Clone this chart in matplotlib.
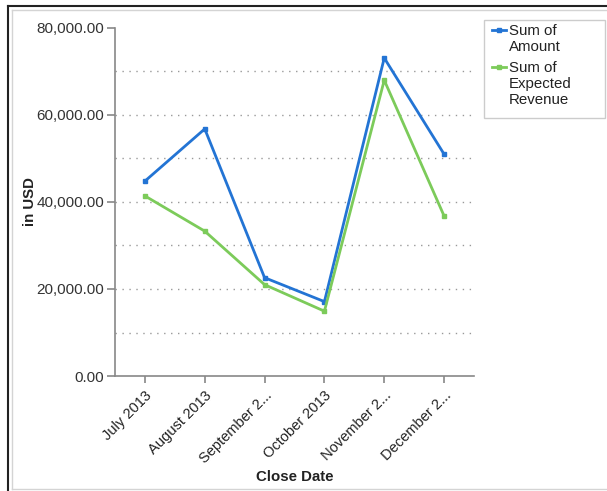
import matplotlib
matplotlib.use("Agg")
import matplotlib.pyplot as plt
from matplotlib.patches import Rectangle
from matplotlib.lines import Line2D
from matplotlib.ticker import MultipleLocator, FuncFormatter

plt.rcParams['font.family'] = ['Liberation Sans', 'DejaVu Sans']

months = ["July 2013", "August 2013", "September 2...", "October 2013",
          "November 2...", "December 2..."]
amount = [44800, 56800, 22600, 17100, 73100, 51000]
expected_revenue = [41400, 33300, 21000, 14900, 68000, 36800]
series_labels = ["Sum of\nAmount", "Sum of\nExpected\nRevenue"]

blue = "#2374d4"
green = "#7ccb5a"

W, H = 607, 491
fig = plt.figure(figsize=(W / 100, H / 100), dpi=100)


def fx(px):
    return px / W


def fy(py):
    return 1 - py / H


def fig_line(x0, y0, x1, y1, color, lw):
    fig.add_artist(Line2D([fx(x0), fx(x1)], [fy(y0), fy(y1)], transform=fig.transFigure,
                          color=color, lw=lw))


# panel frame
fig_line(8, 6, W, 6, "#222222", 1.5)
fig_line(8, 6, 8, H, "#222222", 1.5)
fig_line(12, 10, W, 10, "#d4d4d4", 1.0)
fig_line(12, 10, 12, 489, "#d4d4d4", 1.0)
fig_line(12, 489, W, 489, "#d4d4d4", 1.0)

ax_l, ax_r, ax_t, ax_b = 115, 474, 28, 376
ax = fig.add_axes([fx(ax_l), fy(ax_b), (ax_r - ax_l) / W, (ax_b - ax_t) / H])

x = list(range(len(months)))
colors = [blue, green]
for vals, c in zip([amount, expected_revenue], colors):
    ax.plot(x, vals, color=c, lw=2, marker="s", ms=2.5, zorder=3)

ax.set_xlim(-0.5, len(months) - 0.5)
ax.set_ylim(0, 80000)

ax.yaxis.set_major_locator(MultipleLocator(20000))
ax.yaxis.set_major_formatter(FuncFormatter(lambda v, p: f"{v:,.2f}"))
for yv in range(10000, 80000, 10000):
    ax.axhline(yv, color="#999999", lw=1, ls=(0, (1, 4)), zorder=0)

ax.set_xticks(x)
ax.set_xticklabels(months, rotation=45, ha="right", rotation_mode="anchor",
                   fontsize=10.5, color="#222222")
ax.tick_params(axis="y", length=6, color="#888888", width=1.2,
               labelsize=11, labelcolor="#333333", pad=2)
ax.tick_params(axis="x", length=5, color="#888888", width=1.2, pad=4)

for side in ("top", "right"):
    ax.spines[side].set_visible(False)
for side in ("left", "bottom"):
    ax.spines[side].set_color("#888888")
    ax.spines[side].set_linewidth(1.2)

fig.text(fx(30), fy(202), "in USD", rotation=90, ha="center", va="center",
         fontsize=10.8, fontweight="bold", color="#222222")
fig.text(fx(295), fy(477), "Close Date", ha="center", va="center",
         fontsize=10.8, fontweight="bold", color="#222222")

# legend box with handles aligned to the first line of each entry
fig.add_artist(Rectangle((fx(484), fy(118)), (605 - 484) / W, (118 - 20) / H,
                         transform=fig.transFigure, fill=False,
                         edgecolor="#cccccc", lw=1.0))
entry_top = [24, 61]
for lbl, c, top in zip(series_labels, colors, entry_top):
    hy = top + 5.5
    fig.add_artist(Line2D([fx(492), fx(506)], [fy(hy), fy(hy)], transform=fig.transFigure,
                          color=c, lw=2))
    fig.add_artist(Line2D([fx(499)], [fy(hy)], transform=fig.transFigure,
                          color=c, marker="s", ms=2.5, lw=0))
    fig.text(fx(509), fy(top), lbl, ha="left", va="top", fontsize=10.8,
             color="#222222", linespacing=1.2)

fig.savefig("out.png", dpi=100)
